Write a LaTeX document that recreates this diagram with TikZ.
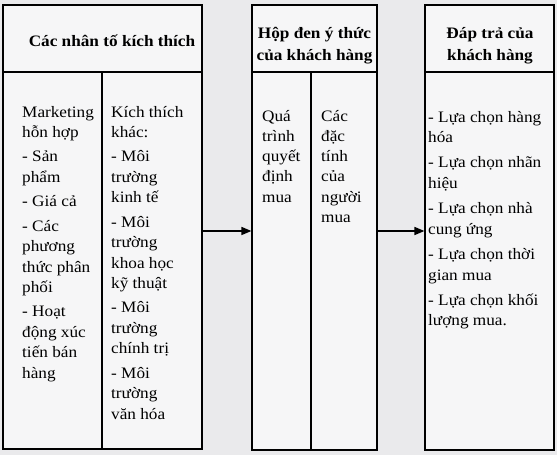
\documentclass[tikz,border=0pt]{standalone}
\usepackage{fontspec}
\setmainfont[FakeStretch=1.08]{Liberation Serif}
\usetikzlibrary{arrows.meta}
\definecolor{nen}{RGB}{234,234,236}
\definecolor{hop}{RGB}{246,246,247}
\tikzset{
  khung/.style={draw, line width=1.2bp, fill=hop, inner sep=0pt},
  vach/.style={line width=1.2bp},
  tieude/.style={font=\bfseries\fontsize{16}{22}\selectfont, align=center, inner sep=0pt},
  cot/.style={font=\fontsize{16}{20.5}\selectfont, align=left, anchor=north west, inner sep=0pt},
  muiten/.style={-{Triangle[length=10bp,width=8bp]}, line width=1.5bp}
}
\begin{document}
\begin{tikzpicture}[x=1bp,y=-1bp]
\useasboundingbox[fill=nen] (0,0) rectangle (557,455);

\node[khung, minimum width=199bp, minimum height=444bp] (nhanto) at (102.5,227) {};
\node[khung, minimum width=125bp, minimum height=445bp] (hopden) at (314.5,227.5) {};
\node[khung, minimum width=129bp, minimum height=445bp] (daptra) at (489.5,227.5) {};

\draw[vach] (nhanto.west |- 0,72) -- (nhanto.east |- 0,72);
\draw[vach] (hopden.west |- 0,72) -- (hopden.east |- 0,72);
\draw[vach] (daptra.west |- 0,72) -- (daptra.east |- 0,72);
\draw[vach] (102,72) -- (nhanto.south -| 102,0);
\draw[vach] (311,72) -- (hopden.south -| 311,0);

\node[tieude, anchor=base] (tdnhanto) at (112,47) {Các nhân tố kích thích};
\node[tieude, anchor=north] (tdhopden) at (314.5,22.6) {\strut Hộp đen ý thức\\của khách hàng};
\node[tieude, anchor=north] (tddaptra) at (490,22.6) {\strut Đáp trả của\\khách hàng};

\node[cot] (marketing) at (22,102.65) {\strut Marketing\\hỗn hợp\\[4bp]- Sản\\phẩm\\[4bp]- Giá cả\\[4bp]- Các\\phương\\thức phân\\phối\\[4bp]- Hoạt\\động xúc\\tiến bán\\hàng};
\node[cot] (kichthich) at (111,102.65) {\strut Kích thích\\khác:\\[4bp]- Môi\\trường\\kinh tế\\[4bp]- Môi\\trường\\khoa học\\kỹ thuật\\[4bp]- Môi\\trường\\chính trị\\[4bp]- Môi\\trường\\văn hóa};
\node[cot, font=\fontsize{16}{20.3}\selectfont] (quatrinh) at (262,106.8) {\strut Quá\\trình\\quyết\\định\\mua};
\node[cot, font=\fontsize{16}{20.3}\selectfont] (dactinh) at (321,106.8) {\strut Các\\đặc\\tính\\của\\người\\mua};
\node[cot] (luachon) at (428,107.65) {\strut - Lựa chọn hàng\\hóa\\[5bp]- Lựa chọn nhãn\\hiệu\\[5bp]- Lựa chọn nhà\\cung ứng\\[5bp]- Lựa chọn thời\\gian mua\\[5bp]- Lựa chọn khối\\lượng mua.};

\draw[muiten] (nhanto.east |- 0,231) -- (hopden.west |- 0,231);
\draw[muiten] (hopden.east |- 0,231) -- (daptra.west |- 0,231);
\end{tikzpicture}
\end{document}
